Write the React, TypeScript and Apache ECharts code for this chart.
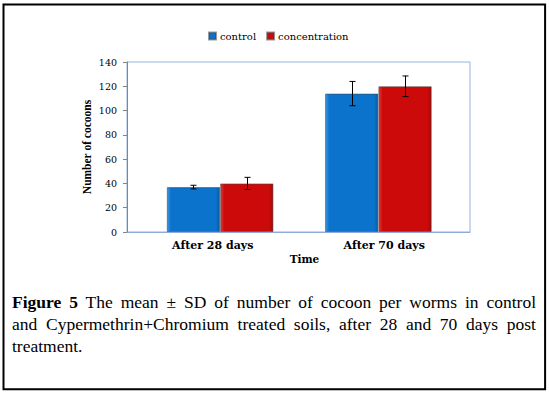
import React, { useEffect, useRef } from "react";
import * as echarts from "echarts";

const categories = ["After 28 days", "After 70 days"];
const controlMean = [37, 114];
const controlSD = [1.5, 10];
const concMean = [40, 120];
const concSD = [5, 8.5];
const seriesNames = ["control", "concentration"];
const yMin = 0;
const yMax = 140;
const yInterval = 20;
const captionLines = [
  "The mean ± SD of number of cocoon per worms in control",
  "and Cypermethrin+Chromium treated soils, after 28 and 70 days post",
  "treatment.",
];

const CAT_GAP = 0.326;

export default function App() {
  const ref = useRef<HTMLDivElement>(null);

  useEffect(() => {
    if (!ref.current) return;
    const chart = echarts.init(ref.current, null, { renderer: "svg" });

    const errData: number[][] = [];
    [controlMean, concMean].forEach((means, s) => {
      const sds = s === 0 ? controlSD : concSD;
      means.forEach((m, i) => errData.push([i, m, sds[i], s]));
    });

    const blueGrad = new echarts.graphic.LinearGradient(0, 0, 1, 0, [
      { offset: 0, color: "#3D97E3" },
      { offset: 0.07, color: "#0B73CB" },
      { offset: 0.93, color: "#0B73CB" },
      { offset: 1, color: "#075BA6" },
    ]);
    const redGrad = new echarts.graphic.LinearGradient(0, 0, 1, 0, [
      { offset: 0, color: "#E23A3A" },
      { offset: 0.07, color: "#CC0A0A" },
      { offset: 0.93, color: "#CC0A0A" },
      { offset: 1, color: "#A30707" },
    ]);

    const serifFont = "DejaVu Serif";

    chart.setOption({
      animation: false,
      backgroundColor: "#fff",
      legend: {
        data: seriesNames.map((n) => ({ name: n, icon: "rect" })),
        left: 208,
        top: 31,
        padding: 0,
        itemWidth: 7,
        itemHeight: 7,
        itemGap: 10,
        textStyle: { fontFamily: serifFont, fontSize: 10, color: "#000", padding: [0, 0, 0, -1] },
      },
      grid: [
        { left: 127, top: 62, right: 79, bottom: 162, show: true, borderColor: "#95B3D7", borderWidth: 1 },
        { left: 141, top: 62, right: 91.5, bottom: 162 },
      ],
      xAxis: [
        {
          gridIndex: 0,
          type: "category",
          data: categories,
          axisLine: { show: true, lineStyle: { color: "#8EAAD8", width: 1 } },
          axisTick: { show: false },
          axisLabel: { margin: 8, fontFamily: serifFont, fontWeight: "bold", fontSize: 11, color: "#000" },
          name: "Time",
          nameLocation: "middle",
          nameGap: 21,
          nameMoveOverlap: false,
          nameTextStyle: { fontFamily: serifFont, fontWeight: "bold", fontSize: 10.5, color: "#000", padding: [0, 0, 0, 12] },
        },
        { gridIndex: 1, type: "category", data: categories, show: false },
      ],
      yAxis: [
        {
          gridIndex: 0,
          type: "value",
          min: yMin,
          max: yMax,
          interval: yInterval,
          axisLine: { show: true, lineStyle: { color: "#868686" } },
          axisTick: { show: true, inside: false, length: 4, lineStyle: { color: "#868686" } },
          splitLine: { show: false },
          axisLabel: { margin: 10, fontFamily: serifFont, fontSize: 9.5, color: "#000" },
          name: "Number of cocoons",
          nameLocation: "middle",
          nameGap: 34,
          nameMoveOverlap: false,
          nameRotate: 90,
          nameTextStyle: { fontFamily: "Liberation Serif", fontWeight: "bold", fontSize: 11.5, color: "#000" },
        },
        { gridIndex: 1, type: "value", min: yMin, max: yMax, interval: yInterval, show: false, splitLine: { show: false } },
      ],
      series: [
        {
          name: seriesNames[0],
          type: "bar",
          xAxisIndex: 1,
          yAxisIndex: 1,
          data: controlMean,
          barGap: "0%",
          barCategoryGap: CAT_GAP * 100 + "%",
          itemStyle: { color: blueGrad, borderColor: "rgba(70,70,70,0.55)", borderWidth: 1 },
        },
        {
          name: seriesNames[1],
          type: "bar",
          xAxisIndex: 1,
          yAxisIndex: 1,
          data: concMean,
          barGap: "0%",
          barCategoryGap: CAT_GAP * 100 + "%",
          itemStyle: { color: redGrad, borderColor: "rgba(70,70,70,0.55)", borderWidth: 1 },
        },
        {
          type: "custom",
          xAxisIndex: 1,
          yAxisIndex: 1,
          z: 10,
          encode: { x: 0, y: 1 },
          data: errData,
          renderItem: (params: any, api: any) => {
            const cat = api.value(0);
            const mean = api.value(1);
            const sd = api.value(2);
            const s = api.value(3);
            const catW = api.size([1, 0])[0];
            const barW = (catW * (1 - CAT_GAP)) / 2;
            const c = api.coord([cat, mean]);
            const x = Math.round(c[0] + (s === 0 ? -barW / 2 : barW / 2)) + 0.5;
            const top = api.coord([cat, mean + sd])[1];
            const bot = api.coord([cat, mean - sd])[1];
            const hw = 3;
            const st = { stroke: "#000", lineWidth: 1 };
            return {
              type: "group",
              children: [
                { type: "line", shape: { x1: x, y1: top, x2: x, y2: bot }, style: st },
                { type: "line", shape: { x1: x - hw, y1: top, x2: x + hw, y2: top }, style: st },
                { type: "line", shape: { x1: x - hw, y1: bot, x2: x + hw, y2: bot }, style: st },
              ],
            };
          },
        },
      ],
      graphic: [
        {
          type: "rect",
          shape: { x: 3.5, y: 4.4, width: 541.6, height: 384.8 },
          style: { fill: "none", stroke: "#000", lineWidth: 2 },
          silent: true,
        },
      ],
    });

    return () => chart.dispose();
  }, []);

  return (
    <div style={{ position: "absolute", left: 0, top: 0, width: 549, height: 394, background: "#fff" }}>
      <div ref={ref} style={{ position: "absolute", left: 0, top: 0, width: 549, height: 394 }} />
      <div
        style={{
          position: "absolute",
          left: 12,
          top: 291,
          width: 524,
          fontFamily: "'Liberation Serif', 'Times New Roman', Times, serif",
          fontSize: 17.5,
          lineHeight: "22px",
          color: "#000",
        }}
      >
        <div style={{ textAlign: "justify", textAlignLast: "justify" } as React.CSSProperties}>
          <b>Figure 5</b> {captionLines[0]}
        </div>
        <div style={{ textAlign: "justify", textAlignLast: "justify" } as React.CSSProperties}>{captionLines[1]}</div>
        <div style={{ textAlign: "left" }}>{captionLines[2]}</div>
      </div>
    </div>
  );
}
